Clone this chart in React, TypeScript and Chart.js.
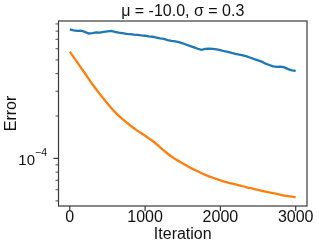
import React, { useEffect, useRef } from 'react';
import { Chart, registerables } from 'chart.js';

Chart.register(...registerables);

const TITLE = 'μ = -10.0, σ = 0.3';
const X_LABEL = 'Iteration';
const Y_LABEL = 'Error';

const BLUE_ITER = [
  0, 50, 100, 150, 200, 250, 300, 350, 400, 450, 500, 550, 600, 650, 700, 750, 800, 850, 900, 950,
  1000, 1050, 1100, 1150, 1200, 1250, 1300, 1350, 1400, 1450, 1500, 1550, 1600, 1650, 1700, 1750,
  1800, 1850, 1900, 1950, 2000, 2050, 2100, 2150, 2200, 2250, 2300, 2350, 2400, 2450, 2500, 2550,
  2600, 2650, 2700, 2750, 2800, 2850, 2900, 2950, 3000,
];
const BLUE_ERR = [
  8.24e-4, 8.1e-4, 8.04e-4, 8.06e-4, 7.9e-4, 7.7e-4, 7.74e-4, 7.84e-4, 7.8e-4, 7.9e-4, 7.96e-4,
  8.02e-4, 7.9e-4, 7.8e-4, 7.74e-4, 7.66e-4, 7.62e-4, 7.56e-4, 7.52e-4, 7.46e-4, 7.42e-4, 7.34e-4,
  7.3e-4, 7.2e-4, 7.1e-4, 7.04e-4, 6.92e-4, 6.82e-4, 6.76e-4, 6.68e-4, 6.56e-4, 6.4e-4, 6.26e-4,
  6.14e-4, 6.0e-4, 5.9e-4, 5.98e-4, 6.02e-4, 5.98e-4, 5.94e-4, 5.86e-4, 5.76e-4, 5.7e-4, 5.6e-4,
  5.52e-4, 5.46e-4, 5.38e-4, 5.3e-4, 5.18e-4, 5.06e-4, 4.96e-4, 4.86e-4, 4.7e-4, 4.6e-4, 4.5e-4,
  4.46e-4, 4.48e-4, 4.42e-4, 4.3e-4, 4.22e-4, 4.18e-4,
];

const ORANGE_ITER = [
  0, 100, 200, 300, 400, 500, 600, 700, 800, 900, 1000, 1100, 1200, 1300, 1400, 1500, 1600, 1700,
  1800, 1900, 2000, 2100, 2200, 2300, 2400, 2500, 2600, 2700, 2800, 2900, 3000,
];
const ORANGE_ERR = [
  5.72e-4, 4.8e-4, 4.02e-4, 3.36e-4, 2.86e-4, 2.45e-4, 2.13e-4, 1.9e-4, 1.72e-4, 1.57e-4, 1.45e-4,
  1.33e-4, 1.2e-4, 1.08e-4, 9.9e-5, 9.2e-5, 8.6e-5, 8.1e-5, 7.65e-5, 7.3e-5, 7.0e-5, 6.75e-5,
  6.55e-5, 6.35e-5, 6.15e-5, 5.98e-5, 5.82e-5, 5.68e-5, 5.52e-5, 5.4e-5, 5.32e-5,
];

const X_TICKS = [0, 1000, 2000, 3000];
const Y_MAJOR = [1e-4];
const Y_MINOR = [5e-5, 6e-5, 7e-5, 8e-5, 9e-5, 2e-4, 3e-4, 4e-4, 5e-4, 6e-4, 7e-4, 8e-4, 9e-4];
const Y_MAJOR_BASE = '10';
const Y_MAJOR_EXP = '−4';

const FONT = '"Liberation Sans", Arial, sans-serif';
const AXIS_COLOR = '#3a3a3a';

const isMajor = (v: number) => Y_MAJOR.some((m) => Math.abs(v - m) < m * 1e-6);

const framePlugin = {
  id: 'frameTicks',
  afterDraw(chart: any) {
    const { ctx, chartArea } = chart;
    const xs = chart.scales.x;
    const ys = chart.scales.y;
    const { left, right, top, bottom } = chartArea;
    ctx.save();
    ctx.strokeStyle = AXIS_COLOR;
    ctx.lineWidth = 1.2;
    ctx.strokeRect(left, top, right - left, bottom - top);
    ctx.beginPath();
    X_TICKS.forEach((v) => {
      const px = xs.getPixelForValue(v);
      ctx.moveTo(px, bottom);
      ctx.lineTo(px, bottom + 5);
    });
    Y_MAJOR.forEach((v) => {
      const py = ys.getPixelForValue(v);
      ctx.moveTo(left, py);
      ctx.lineTo(left - 5, py);
    });
    ctx.stroke();
    ctx.lineWidth = 0.9;
    ctx.beginPath();
    Y_MINOR.forEach((v) => {
      const py = ys.getPixelForValue(v);
      ctx.moveTo(left, py);
      ctx.lineTo(left - 3, py);
    });
    ctx.stroke();
    // superscript exponent of the major log tick label
    const py = ys.getPixelForValue(Y_MAJOR[0]);
    ctx.fillStyle = '#111';
    ctx.font = `10.5px ${FONT}`;
    ctx.textAlign = 'left';
    ctx.textBaseline = 'middle';
    ctx.fillText(Y_MAJOR_EXP, left - 23.5, py - 5);
    ctx.restore();
  },
};

export default function App() {
  const ref = useRef<HTMLCanvasElement | null>(null);

  useEffect(() => {
    if (!ref.current) return;
    Chart.defaults.font.family = FONT;
    const chart = new Chart(ref.current, {
      type: 'line',
      data: {
        datasets: [
          {
            label: 'blue',
            data: BLUE_ITER.map((x, i) => ({ x, y: BLUE_ERR[i] })),
            borderColor: '#1f77b4',
            borderWidth: 2.3,
            pointRadius: 0,
            tension: 0,
          },
          {
            label: 'orange',
            data: ORANGE_ITER.map((x, i) => ({ x, y: ORANGE_ERR[i] })),
            borderColor: '#ff7f0e',
            borderWidth: 2.3,
            pointRadius: 0,
            tension: 0.3,
          },
        ],
      },
      options: {
        animation: false,
        responsive: false,
        devicePixelRatio: 1,
        layout: { padding: { left: 0, right: 12, top: 0, bottom: 0 } },
        plugins: {
          legend: { display: false },
          tooltip: { enabled: false },
          title: {
            display: true,
            text: TITLE,
            fullSize: false,
            color: '#111',
            font: { size: 16, weight: 'normal', lineHeight: 1 },
            padding: { top: 4, bottom: 1 },
          },
        },
        scales: {
          x: {
            type: 'linear',
            min: -150,
            max: 3150,
            afterBuildTicks: (s: any) => {
              s.ticks = X_TICKS.map((value) => ({ value }));
            },
            afterFit: (s: any) => {
              s.height = 42;
              s.paddingLeft = 0;
              s.paddingRight = 0;
            },
            grid: { display: false, drawTicks: false },
            border: { display: false },
            ticks: {
              autoSkip: false,
              maxRotation: 0,
              padding: 1.5,
              color: '#111',
              font: { size: 16 },
              callback: (v: any) => String(v),
            },
            title: {
              display: true,
              text: X_LABEL,
              color: '#111',
              font: { size: 16 },
              padding: { top: 0, bottom: 3.4 },
            },
          },
          y: {
            type: 'logarithmic',
            min: 4.6e-5,
            max: 9.44e-4,
            afterBuildTicks: (s: any) => {
              s.ticks = [...Y_MINOR, ...Y_MAJOR].sort((a, b) => a - b).map((value) => ({ value }));
            },
            afterFit: (s: any) => {
              s.width = 58.5;
              s.paddingTop = 0;
              s.paddingBottom = 0;
            },
            grid: { display: false, drawTicks: false },
            border: { display: false },
            ticks: {
              autoSkip: false,
              padding: 23.5,
              labelOffset: 2.5,
              color: '#111',
              font: { size: 15 },
              callback: (v: any) => (isMajor(Number(v)) ? Y_MAJOR_BASE : ''),
            },
            title: {
              display: true,
              text: Y_LABEL,
              color: '#111',
              font: { size: 16 },
              padding: { top: 1.5, bottom: 0 },
            },
          },
        },
      },
      plugins: [framePlugin],
    });
    return () => chart.destroy();
  }, []);

  return (
    <div style={{ position: 'fixed', left: 0, top: 0, width: 319, height: 248, background: '#fff' }}>
      <canvas ref={ref} width={319} height={248} />
    </div>
  );
}
